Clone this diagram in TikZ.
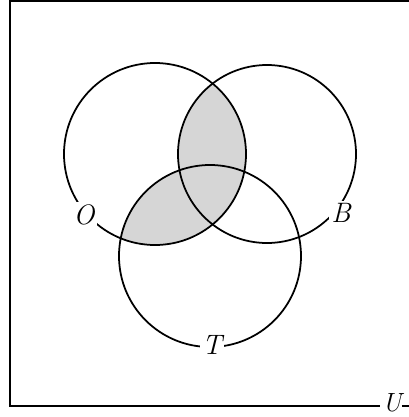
\documentclass[tikz,border=0pt]{standalone}
\usepackage{tikz}
\usetikzlibrary{positioning}
\definecolor{ShadeGray}{HTML}{D6D6D6}

\begin{document}
\begin{tikzpicture}[
  x=0.02cm, y=-0.02cm,
  ring/.style={draw, line width=1pt},
  frame/.style={line width=1pt},
  lab/.style={fill=white, inner sep=1.5pt, font=\itshape\fontsize{16}{16}\selectfont}
]
\useasboundingbox (0,0) rectangle (409,417);

\coordinate (oc) at (155,154);
\coordinate (bc) at (267,154);
\coordinate (tc) at (210,256);

% shaded regions
\begin{scope}
  \clip (oc) circle (91);
  \fill[ShadeGray] (bc) circle (89);
  \fill[ShadeGray] (tc) circle (91);
\end{scope}

\path[ring] (oc) circle (91);
\path[ring] (bc) circle (89);
\path[ring] (tc) circle (91);

\node[lab] (O) at (84,215) {O};
\node[lab] (B) at (341,213) {B};
\node[lab] (T) at (212,345) {T};

% universe frame
\coordinate (tr) at (409,1);
\coordinate (tl) at (10,1);
\coordinate (bl) at (10,406);
\node[lab, fill=none, inner sep=0pt, anchor=west, font=\itshape\fontsize{15}{15}\selectfont] (U) at (382,403) {U};
\coordinate (br) at (409,406);
\draw[frame] (tr) -- (tl) -- (bl) -- (380,406);
\draw[frame] (U.east |- br) -- (br);
\end{tikzpicture}
\end{document}
